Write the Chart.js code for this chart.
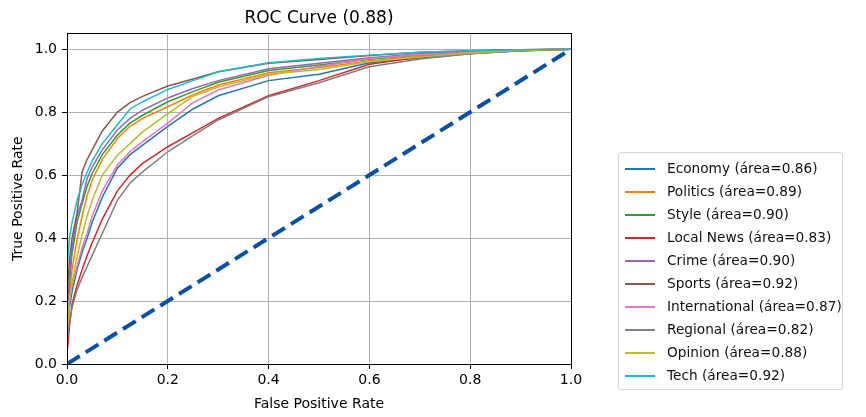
<!DOCTYPE html>
<html>
<head>
<meta charset="utf-8">
<script src="https://cdn.jsdelivr.net/npm/chart.js@4"></script>
<style>
  body { margin: 0; background: #fff; font-family: "DejaVu Sans", sans-serif; }
  #wrap { position: relative; width: 866px; height: 417px; }
  #legend { position: absolute; left: 618px; top: 152px; width: 225px; height: 238px;
            border: 1px solid #d6d6d6; border-radius: 3px; box-sizing: border-box; padding-top: 4px; }
  .row { position: relative; height: 23px; font-size: 13.7px; line-height: 23px; color: #111; white-space: nowrap; padding-left: 48px; }
  .row .ln { position: absolute; left: 6px; top: 11px; width: 30px; height: 1.5px; }
</style>
</head>
<body>
<div id="wrap">
  <canvas id="roc" width="866" height="417"></canvas>
  <div id="legend"></div>
</div>
<script>
// false positive rate sample points (shared by all classes)
const fpr = [0, 0, 0.005, 0.01, 0.02, 0.03, 0.04, 0.05, 0.07, 0.1, 0.125, 0.15, 0.2, 0.25, 0.3, 0.4, 0.5, 0.6, 0.7, 0.8, 0.9, 1];

// true positive rate per class
const economy   = [0, 0.05, 0.18, 0.23, 0.30, 0.355, 0.40, 0.45, 0.53, 0.622, 0.665, 0.695, 0.755, 0.81, 0.852, 0.90, 0.92, 0.957, 0.972, 0.985, 0.995, 1];
const politics  = [0, 0.08, 0.22, 0.30, 0.395, 0.47, 0.535, 0.585, 0.65, 0.716, 0.755, 0.78, 0.817, 0.855, 0.886, 0.925, 0.942, 0.962, 0.978, 0.99, 0.997, 1];
const style     = [0, 0.10, 0.26, 0.35, 0.45, 0.51, 0.565, 0.605, 0.665, 0.727, 0.765, 0.79, 0.833, 0.865, 0.895, 0.932, 0.95, 0.968, 0.982, 0.991, 0.997, 1];
const localNews = [0, 0.03, 0.12, 0.19, 0.25, 0.30, 0.345, 0.385, 0.46, 0.55, 0.60, 0.637, 0.69, 0.735, 0.78, 0.852, 0.90, 0.952, 0.975, 0.988, 0.995, 1];
const crime     = [0, 0.12, 0.28, 0.37, 0.47, 0.52, 0.59, 0.625, 0.68, 0.743, 0.78, 0.806, 0.845, 0.875, 0.90, 0.938, 0.955, 0.973, 0.985, 0.993, 0.998, 1];
const sports    = [0, 0.22, 0.33, 0.40, 0.48, 0.61, 0.65, 0.68, 0.74, 0.80, 0.83, 0.85, 0.883, 0.905, 0.928, 0.955, 0.967, 0.98, 0.99, 0.995, 0.998, 1];
const intl      = [0, 0.06, 0.21, 0.25, 0.31, 0.37, 0.415, 0.47, 0.55, 0.632, 0.675, 0.706, 0.765, 0.83, 0.87, 0.917, 0.945, 0.97, 0.982, 0.99, 0.997, 1];
const regional  = [0, 0.08, 0.13, 0.18, 0.235, 0.275, 0.31, 0.345, 0.415, 0.52, 0.575, 0.61, 0.674, 0.725, 0.775, 0.849, 0.893, 0.944, 0.969, 0.985, 0.995, 1];
const opinion   = [0, 0.10, 0.20, 0.26, 0.34, 0.41, 0.47, 0.52, 0.60, 0.663, 0.70, 0.737, 0.795, 0.85, 0.88, 0.92, 0.935, 0.96, 0.975, 0.988, 0.996, 1];
const tech      = [0, 0.30, 0.40, 0.45, 0.52, 0.57, 0.61, 0.645, 0.70, 0.76, 0.81, 0.833, 0.872, 0.90, 0.928, 0.957, 0.97, 0.981, 0.99, 0.995, 0.998, 1];

const classNames = ["Economy", "Politics", "Style", "Local News", "Crime", "Sports", "International", "Regional", "Opinion", "Tech"];
const areas = ["0.86", "0.89", "0.90", "0.83", "0.90", "0.92", "0.87", "0.82", "0.88", "0.92"];
const tprs = [economy, politics, style, localNews, crime, sports, intl, regional, opinion, tech];
const colors = ["#1f77b4", "#ff7f0e", "#2ca02c", "#d62728", "#9467bd", "#8c564b", "#e377c2", "#7f7f7f", "#bcbd22", "#17becf"];

const diagX = [0, 1];
const diagY = [0, 1];
const tickVals = [0, 0.2, 0.4, 0.6, 0.8, 1.0];
const tickLabels = ["0.0", "0.2", "0.4", "0.6", "0.8", "1.0"];

const font = "'DejaVu Sans', sans-serif";

let datasets = tprs.map((t, i) => ({
    label: classNames[i] + " (área=" + areas[i] + ")",
    data: t.map((y, j) => ({x: fpr[j], y: y})),
    borderColor: colors[i],
    borderWidth: 1.5,
    pointRadius: 0,
    tension: 0,
    fill: false,
    order: tprs.length - i
}));
datasets.push({
    label: "chance",
    data: diagX.map((x, j) => ({x: x, y: diagY[j]})),
    borderColor: "#0b50a8",
    borderWidth: 4,
    borderDash: [15, 7],
    pointRadius: 0,
    fill: false,
    order: 0
});

// black box around the axes
const frame = {
    id: "frame",
    afterDraw(chart) {
        const a = chart.chartArea, c = chart.ctx;
        c.save();
        c.strokeStyle = "#000";
        c.lineWidth = 1;
        c.strokeRect(Math.round(a.left) + 0.5, Math.round(a.top) + 0.5, Math.round(a.right - a.left), Math.round(a.bottom - a.top));
        c.restore();
    }
};

const tickFix = (scale) => { scale.ticks = tickVals.map(v => ({value: v})); };

new Chart("roc", {
    type: "line",
    data: { datasets: datasets },
    plugins: [frame],
    options: {
        responsive: false,
        animation: false,
        layout: { padding: { left: 0, right: 295, top: 0, bottom: 0 } },
        plugins: {
            legend: { display: false },
            tooltip: { enabled: false },
            title: {
                display: true,
                text: "ROC Curve (0.88)",
                fullSize: false,
                color: "#000",
                font: { family: font, size: 17, weight: "normal" },
                padding: { top: 8, bottom: 5 }
            }
        },
        scales: {
            x: {
                type: "linear", min: 0, max: 1,
                afterBuildTicks: tickFix,
                afterFit: (s) => { s.height = 53; },
                grid: { color: "#b0b0b0", tickColor: "#000", tickLength: 5 },
                border: { color: "#000" },
                ticks: { color: "#000", font: { family: font, size: 14 }, padding: 3,
                         maxRotation: 0, callback: (v) => tickLabels[tickVals.indexOf(v)] },
                title: { display: true, text: "False Positive Rate", color: "#000",
                         font: { family: font, size: 14 }, padding: { top: 0, bottom: 4 } }
            },
            y: {
                type: "linear", min: 0, max: 1.05,
                afterBuildTicks: tickFix,
                afterFit: (s) => { s.width = 67; },
                grid: { color: "#b0b0b0", tickColor: "#000", tickLength: 5 },
                border: { color: "#000" },
                ticks: { color: "#000", font: { family: font, size: 14 }, padding: 5,
                         callback: (v) => tickLabels[tickVals.indexOf(v)] },
                title: { display: true, text: "True Positive Rate", color: "#000",
                         font: { family: font, size: 14 }, padding: { top: 10, bottom: 0 } }
            }
        }
    }
});

// legend box, built from the same names and colours
const legendDiv = document.getElementById("legend");
datasets.slice(0, tprs.length).forEach(d => {
    legendDiv.innerHTML += '<div class="row"><span class="ln" style="background:' + d.borderColor + '"></span>' + d.label + '</div>';
});
</script>
</body>
</html>
